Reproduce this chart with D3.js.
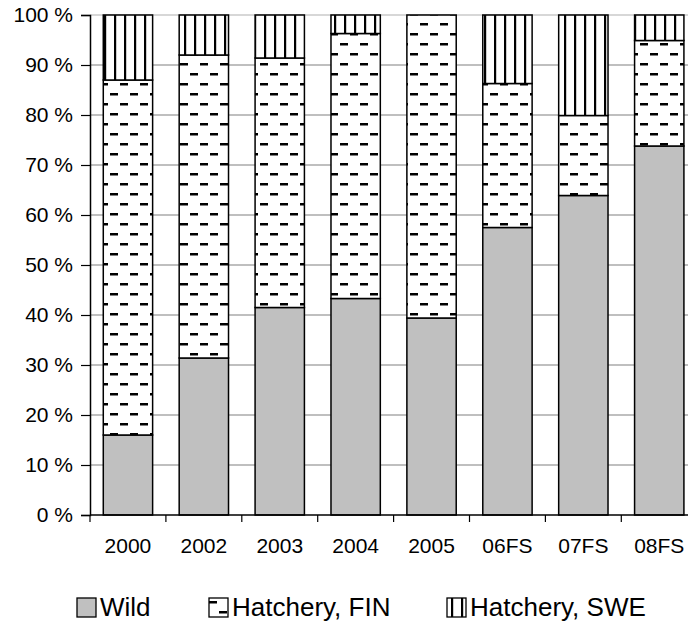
<!DOCTYPE html>
<html>
<head>
<meta charset="utf-8">
<script src="https://cdn.jsdelivr.net/npm/d3@7"></script>
<style>
  body { margin: 0; background: #fff; }
  svg { display: block; font-family: Arial, "Liberation Sans", sans-serif; }
</style>
</head>
<body>
<svg width="688" height="626"></svg>
<script>
// share of salmon by origin, percent
const categories = ["2000", "2002", "2003", "2004", "2005", "06FS", "07FS", "08FS"];
const wild = [16, 31.4, 41.5, 43.3, 39.4, 57.5, 63.9, 73.8];
const hatcheryFin = [71, 60.6, 49.9, 53, 60.6, 28.8, 16, 21.1];
const hatcherySwe = [13, 8, 8.6, 3.7, 0, 13.7, 20.1, 5.1];
const seriesNames = ["Wild", "Hatchery, FIN", "Hatchery, SWE"];
const yTicks = [0, 10, 20, 30, 40, 50, 60, 70, 80, 90, 100];

const svg = d3.select("svg");
const plotLeft = 90, plotTop = 15, plotBottom = 515;

const defs = svg.append("defs");

// dashed pattern for Finnish hatchery fish
const dash = defs.append("pattern")
  .attr("id", "dash")
  .attr("patternUnits", "userSpaceOnUse")
  .attr("width", 20).attr("height", 20);
dash.append("rect").attr("width", 20).attr("height", 20).attr("fill", "#fff");
dash.append("rect").attr("x", 0).attr("y", 3).attr("width", 8).attr("height", 2.5).attr("fill", "#000");
dash.append("rect").attr("x", 10).attr("y", 13).attr("width", 8).attr("height", 2.5).attr("fill", "#000");

// vertical lines for Swedish hatchery fish
const vert = defs.append("pattern")
  .attr("id", "vert")
  .attr("patternUnits", "userSpaceOnUse")
  .attr("width", 10).attr("height", 10);
vert.append("rect").attr("width", 10).attr("height", 10).attr("fill", "#fff");
vert.append("rect").attr("x", 4).attr("y", 0).attr("width", 2.2).attr("height", 10).attr("fill", "#000");

const fills = ["#c0c0c0", "url(#dash)", "url(#vert)"];

const x = d3.scaleBand()
  .domain(categories)
  .range([plotLeft, plotLeft + 8 * 75.9])
  .paddingInner(0.35)
  .paddingOuter(0.175);

const y = d3.scaleLinear().domain([0, 100]).range([plotBottom, plotTop]);

// gridlines
svg.append("g")
  .selectAll("line")
  .data(yTicks.filter(d => d > 0))
  .enter()
  .append("line")
  .attr("x1", plotLeft).attr("x2", 700)
  .attr("y1", d => y(d)).attr("y2", d => y(d))
  .attr("stroke", d => d === 100 ? "#b0b0b0" : "#808080")
  .attr("stroke-width", 1.2);

const rows = categories.map((c, i) => ({
  cat: c, Wild: wild[i], "Hatchery, FIN": hatcheryFin[i], "Hatchery, SWE": hatcherySwe[i]
}));
const stacked = d3.stack().keys(seriesNames)(rows);

svg.append("g")
  .selectAll("g")
  .data(stacked)
  .enter()
  .append("g")
  .attr("fill", (d, i) => fills[i])
  .selectAll("rect")
  .data(d => d.filter(p => p[1] - p[0] > 0))
  .enter()
  .append("rect")
  .attr("x", d => x(d.data.cat))
  .attr("width", x.bandwidth())
  .attr("y", d => y(d[1]))
  .attr("height", d => y(d[0]) - y(d[1]))
  .attr("stroke", "#000")
  .attr("stroke-width", 1.5);

// y axis
const yAxis = svg.append("g")
  .attr("transform", `translate(${plotLeft},0)`)
  .call(d3.axisLeft(y).tickValues(yTicks).tickSize(9).tickPadding(8).tickFormat(d => d + " %"));
yAxis.select(".domain").attr("stroke", "#000").attr("stroke-width", 1.5);
yAxis.selectAll(".tick line").attr("stroke", "#000").attr("stroke-width", 1.2);
yAxis.selectAll("text").attr("font-size", 21).attr("fill", "#000").attr("font-family", "Arial, 'Liberation Sans', sans-serif");

// x axis
const xAxis = svg.append("g").attr("transform", `translate(0,${plotBottom})`);
xAxis.append("line")
  .attr("x1", plotLeft).attr("x2", 700)
  .attr("stroke", "#000").attr("stroke-width", 1.5);
xAxis.selectAll(".xt")
  .data(categories)
  .enter()
  .append("line")
  .attr("class", "xt")
  .attr("x1", d => x(d) - x.step() * 0.175).attr("x2", d => x(d) - x.step() * 0.175)
  .attr("y1", 0).attr("y2", 7)
  .attr("stroke", "#000").attr("stroke-width", 1.2);
xAxis.selectAll("text")
  .data(categories)
  .enter()
  .append("text")
  .attr("x", d => x(d) + x.bandwidth() / 2)
  .attr("y", 38)
  .attr("text-anchor", "middle")
  .attr("font-size", 21)
  .text(d => d);

// legend
const legendX = [77, 209, 447];
const legend = svg.append("g")
  .selectAll("g")
  .data(seriesNames)
  .enter()
  .append("g")
  .attr("transform", (d, i) => `translate(${legendX[i]},598)`);
legend.append("rect")
  .attr("width", 19).attr("height", 19)
  .attr("fill", (d, i) => fills[i])
  .attr("stroke", "#000").attr("stroke-width", 1.3);
legend.append("text")
  .attr("x", 23).attr("y", 18)
  .attr("font-size", 26)
  .text(d => d);
</script>
</body>
</html>
